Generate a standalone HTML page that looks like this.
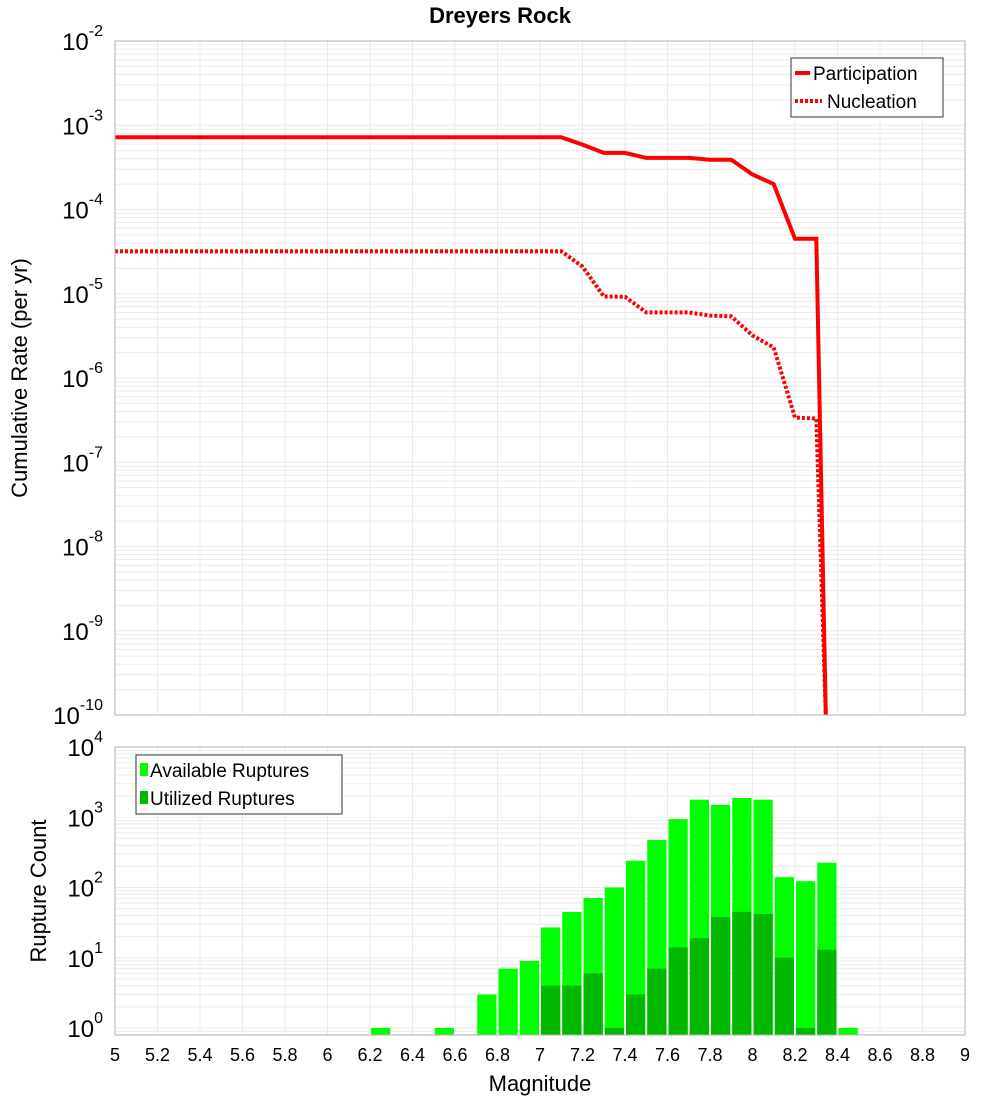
<!DOCTYPE html>
<html><head><meta charset="utf-8"><style>
body{margin:0;background:#fff;width:1000px;height:1100px;overflow:hidden}
svg text{font-family:"Liberation Sans","DejaVu Sans",sans-serif}
</style></head><body>
<svg id="c" width="1000" height="1100" xmlns="http://www.w3.org/2000/svg"></svg>
<script>
const mags=[5,5.1,5.2,5.3,5.4,5.5,5.6,5.7,5.8,5.9,6,6.1,6.2,6.3,6.4,6.5,6.6,6.7,6.8,6.9,7,7.1,7.2,7.3,7.4,7.5,7.6,7.7,7.8,7.9,8,8.1,8.2,8.3,8.345];
const participation=[7.2e-4,7.2e-4,7.2e-4,7.2e-4,7.2e-4,7.2e-4,7.2e-4,7.2e-4,7.2e-4,7.2e-4,7.2e-4,7.2e-4,7.2e-4,7.2e-4,7.2e-4,7.2e-4,7.2e-4,7.2e-4,7.2e-4,7.2e-4,7.2e-4,7.2e-4,5.9e-4,4.7e-4,4.7e-4,4.1e-4,4.1e-4,4.1e-4,3.9e-4,3.9e-4,2.6e-4,2.0e-4,4.5e-5,4.5e-5,1e-10];
const nucleation=[3.2e-5,3.2e-5,3.2e-5,3.2e-5,3.2e-5,3.2e-5,3.2e-5,3.2e-5,3.2e-5,3.2e-5,3.2e-5,3.2e-5,3.2e-5,3.2e-5,3.2e-5,3.2e-5,3.2e-5,3.2e-5,3.2e-5,3.2e-5,3.2e-5,3.2e-5,2.1e-5,9.3e-6,9.2e-6,6.0e-6,6.0e-6,6.0e-6,5.5e-6,5.4e-6,3.2e-6,2.3e-6,3.4e-7,3.3e-7,1e-10];
const binStarts=[6.2,6.5,6.7,6.8,6.9,7.0,7.1,7.2,7.3,7.4,7.5,7.6,7.7,7.8,7.9,8.0,8.1,8.2,8.3,8.4];
const available=[1,1,3,7,9,27,45,71,100,240,475,940,1780,1500,1880,1780,140,123,225,1];
const utilized=[0,0,0,0,0,4,4,6,1,3,7,14,19,38,45,42,10,1,13,0];
const xTicks=[5,5.2,5.4,5.6,5.8,6,6.2,6.4,6.6,6.8,7,7.2,7.4,7.6,7.8,8,8.2,8.4,8.6,8.8,9];
const topExps=[-2,-3,-4,-5,-6,-7,-8,-9,-10];
const botExps=[0,1,2,3,4];

const svg=document.getElementById('c');
const NS='http://www.w3.org/2000/svg';
function el(t,a,p){const e=document.createElementNS(NS,t);for(const k in a)e.setAttribute(k,a[k]);(p||svg).appendChild(e);return e;}
const L=115,R=965,T1=41,B1=715,T2=747,B2=1035;
const X=m=>L+(m-5)/4*(R-L);
const Y1=v=>T1+(-2-Math.log10(v))*(B1-T1)/8;
const Y2=v=>1028-Math.log10(v)*70.25;

// grids
const g=el('g',{});


for(let e=-10;e<-2;e++)for(let k=1;k<10;k++){const y=Y1(k*Math.pow(10,e));el('line',{x1:L,x2:R,y1:y,y2:y,stroke:'#ebebeb','stroke-width':1},g);}
for(let e=-1;e<4;e++)for(let k=1;k<10;k++){const y=Y2(k*Math.pow(10,e));if(y<T2||y>B2)continue;el('line',{x1:L,x2:R,y1:y,y2:y,stroke:'#ebebeb','stroke-width':1},g);}
xTicks.forEach(t=>{const x=X(t);el('line',{x1:x,x2:x,y1:T1,y2:B1,stroke:'#ebebeb'},g);el('line',{x1:x,x2:x,y1:T2,y2:B2,stroke:'#ebebeb'},g);});

// bars
const bw=X(0.1)-X(0)-2;
binStarts.forEach((m,i)=>{
 if(available[i]>0){const y=Y2(available[i]);const r=el('rect',{x:X(m)+1,y:y,width:bw,height:B2-y,fill:'#00ff00'});
 }
 if(utilized[i]>0){const y=Y2(utilized[i]);const r=el('rect',{x:X(m)+1,y:y,width:bw,height:B2-y,fill:'#00b800'});
 }
});

// lines
function path(vals,dash,name){let d='';mags.forEach((m,i)=>{d+=(i?'L':'M')+X(m).toFixed(1)+','+Math.min(Y1(vals[i]),B1+8).toFixed(1);});
 const p=el('path',{d:d,fill:'none',stroke:'#ff0000','stroke-width':4,'stroke-dasharray':dash});
 }
path(participation,'none','participation-line');
path(nucleation,'3,2','nucleation-line');
el('rect',{x:R,y:0,width:40,height:B1,fill:'#fff'});
el('rect',{x:L,y:B1+1,width:R-L,height:T2-B1-2,fill:'#fff'});

// frames
const f1=el('rect',{x:L,y:T1,width:R-L,height:B1-T1,fill:'none',stroke:'#b0b0b0'});

const f2=el('rect',{x:L,y:T2,width:R-L,height:B2-T2,fill:'none',stroke:'#b0b0b0'});


// y tick labels
function ylab(y,e,name){const t=el('text',{x:103,y:y+9,'text-anchor':'end','font-size':24,fill:'#000'});
 
 t.textContent='10';const s=el('tspan',{dy:-14,'font-size':16},t);s.textContent=String(e);}
topExps.forEach(e=>ylab(Y1(Math.pow(10,e)),e,'y-tick-top'));
botExps.forEach(e=>ylab(Y2(Math.pow(10,e)),e,'y-tick-bottom'));
xTicks.forEach(t=>{const x=el('text',{x:X(t),y:1061,'text-anchor':'middle','font-size':18});
 x.textContent=String(t);});

// titles
function txt(s,a,name){const t=el('text',a);t.textContent=s;return t;}
txt('Dreyers Rock',{x:500,y:23,'text-anchor':'middle','font-size':22,'font-weight':'bold'},'chart-title');
txt('Magnitude',{x:540,y:1091,'text-anchor':'middle','font-size':22},'x-axis-title');
txt('Cumulative Rate (per yr)',{x:27,y:378,'text-anchor':'middle','font-size':22,transform:'rotate(-90 27 378)'},'y-axis-title-top');
txt('Rupture Count',{x:46,y:891,'text-anchor':'middle','font-size':22,transform:'rotate(-90 46 891)'},'y-axis-title-bottom');

// legends
const lg1=el('g',{});
el('rect',{x:791,y:58,width:152,height:59,fill:'#fff',stroke:'#333'},lg1);
el('line',{x1:795,x2:810,y1:73,y2:73,stroke:'#f00','stroke-width':4},lg1);
el('line',{x1:795,x2:822,y1:101,y2:101,stroke:'#f00','stroke-width':4,'stroke-dasharray':'3,2'},lg1);
txt('Participation',{x:813,y:80,'font-size':19},'legend-participation');
txt('Nucleation',{x:827,y:108,'font-size':19},'legend-nucleation');
const lg2=el('g',{});
el('rect',{x:136,y:755,width:206,height:59,fill:'#fff',stroke:'#333'},lg2);
el('rect',{x:140,y:763,width:8,height:13,fill:'#00ff00'},lg2);
el('rect',{x:140,y:791,width:8,height:13,fill:'#00b800'},lg2);
txt('Available Ruptures',{x:150,y:777,'font-size':19},'legend-available');
txt('Utilized Ruptures',{x:150,y:805,'font-size':19},'legend-utilized');
</script>
</body></html>
